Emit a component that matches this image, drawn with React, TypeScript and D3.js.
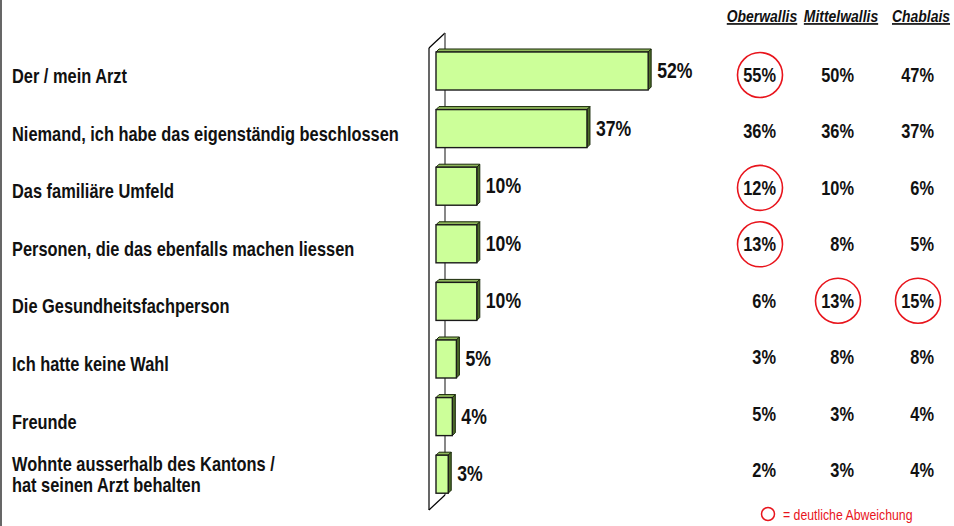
import React from "react";
import * as d3 from "d3";

const categories: string[][] = [
  ["Der / mein Arzt"],
  ["Niemand, ich habe das eigenständig beschlossen"],
  ["Das familiäre Umfeld"],
  ["Personen, die das ebenfalls machen liessen"],
  ["Die Gesundheitsfachperson"],
  ["Ich hatte keine Wahl"],
  ["Freunde"],
  ["Wohnte ausserhalb des Kantons /", "hat seinen Arzt behalten"],
];
const totals = [52, 37, 10, 10, 10, 5, 4, 3];
const regions = ["Oberwallis", "Mittelwallis", "Chablais"];
const oberwallis = [55, 36, 12, 13, 6, 3, 5, 2];
const mittelwallis = [50, 36, 10, 8, 13, 8, 3, 3];
const chablais = [47, 37, 6, 5, 15, 8, 4, 4];
const oberwallisMarked = [true, false, true, true, false, false, false, false];
const mittelwallisMarked = [false, false, false, false, true, false, false, false];
const chablaisMarked = [false, false, false, false, true, false, false, false];
const legendText = "= deutliche Abweichung";

const W = 954;
const H = 526;
const FONT = "'Liberation Sans', Arial, Helvetica, sans-serif";
const NARROW = 0.82;

type NTProps = {
  x: number;
  y: number;
  size: number;
  anchor?: "start" | "middle" | "end";
  weight?: string;
  italic?: boolean;
  underline?: boolean;
  fill?: string;
  children: React.ReactNode;
};

function NText({ x, y, size, anchor = "start", weight = "bold", italic, underline, fill = "#111", children }: NTProps) {
  return (
    <g transform={`translate(${x},${y}) scale(${NARROW},1)`}>
      <text
        x={0}
        y={0}
        textAnchor={anchor}
        fontSize={size}
        fontWeight={weight}
        fontStyle={italic ? "italic" : "normal"}
        textDecoration={underline ? "underline" : undefined}
        fill={fill}
        fontFamily={FONT}
      >
        {children}
      </text>
    </g>
  );
}

export default function App() {
  const y = d3
    .scaleBand<number>()
    .domain(d3.range(categories.length))
    .range([42.2, 503])
    .paddingInner(0.34)
    .paddingOuter(0.17);
  const x = d3.scaleLinear().domain([0, 100]).range([436, 844]);
  const yRow = d3.scalePoint<number>().domain(d3.range(categories.length)).range([75, 470]);
  const depth = 3;

  const regionValues = [oberwallis, mittelwallis, chablais];
  const regionMarks = [oberwallisMarked, mittelwallisMarked, chablaisMarked];
  const colRight = [776, 854, 934];
  const colCircle = [760, 838, 918];
  const headerCenter = [762, 841, 921];

  const wallFront = 429;
  const wallBack = 445;

  return (
    <svg
      width={W}
      height={H}
      style={{ position: "absolute", left: 0, top: 0, background: "#fff" }}
      fontFamily={FONT}
    >
      <rect x={0} y={0} width={W} height={H} fill="#fff" />
      <line x1={1} y1={0} x2={1} y2={H} stroke="#000" strokeWidth={1.2} />

      {/* 3D wall */}
      <line x1={wallFront} y1={48} x2={wallFront} y2={510} stroke="#000" strokeWidth={1.2} />
      <line x1={wallFront} y1={48} x2={wallBack} y2={33} stroke="#000" strokeWidth={1.2} />
      <line x1={wallFront} y1={510} x2={wallBack} y2={495} stroke="#000" strokeWidth={1.2} />
      <line x1={wallBack} y1={33} x2={wallBack} y2={495} stroke="#555" strokeWidth={1.4} />

      {/* bars */}
      {totals.map((v, i) => {
        const y0 = y(i)!;
        const h = y.bandwidth();
        const x0 = x(0);
        const x1 = x(v);
        return (
          <g key={i}>
            <polygon
              points={`${x0},${y0} ${x0 + depth},${y0 - depth} ${x1 + depth},${y0 - depth} ${x1},${y0}`}
              fill="#8fb85a"
              stroke="#1a2a0a"
              strokeWidth={1}
            />
            <polygon
              points={`${x1},${y0} ${x1 + depth},${y0 - depth} ${x1 + depth},${y0 + h - depth} ${x1},${y0 + h}`}
              fill="#4d6b2a"
              stroke="#1a2a0a"
              strokeWidth={1}
            />
            <rect
              x={x0}
              y={y0}
              width={x1 - x0}
              height={h}
              fill="#ccff99"
              stroke="#1a1a1a"
              strokeWidth={1.4}
            />
            <NText x={x1 + depth + 6} y={y0 + h / 2 + 7} size={21.5}>
              {v}%
            </NText>
          </g>
        );
      })}

      {/* category labels */}
      {categories.map((lines, i) => {
        const c = y(i)! + y.bandwidth() / 2;
        const start = lines.length === 1 ? c + 12 : c - 3;
        return (
          <g key={i}>
            {lines.map((l, j) => (
              <NText key={j} x={12} y={start + j * 21} size={20}>
                {l}
              </NText>
            ))}
          </g>
        );
      })}

      {/* region headers */}
      {regions.map((r, k) => (
        <NText key={r} x={headerCenter[k]} y={22} anchor="middle" size={17} italic underline>
          {r}
        </NText>
      ))}

      {/* region values */}
      {regionValues.map((vals, k) =>
        vals.map((v, i) => {
          const c = yRow(i)!;
          return (
            <g key={`${k}-${i}`}>
              {regionMarks[k][i] && (
                <circle cx={colCircle[k]} cy={c} r={22.5} fill="none" stroke="#e8141c" strokeWidth={1.6} />
              )}
              <NText x={colRight[k]} y={c + 7} anchor="end" size={20}>
                {v}%
              </NText>
            </g>
          );
        })
      )}

      {/* legend */}
      <circle cx={768} cy={514} r={6.5} fill="none" stroke="#e8141c" strokeWidth={1.5} />
      <NText x={783} y={520} size={15} weight="normal" fill="#e8141c">
        {legendText}
      </NText>
    </svg>
  );
}
